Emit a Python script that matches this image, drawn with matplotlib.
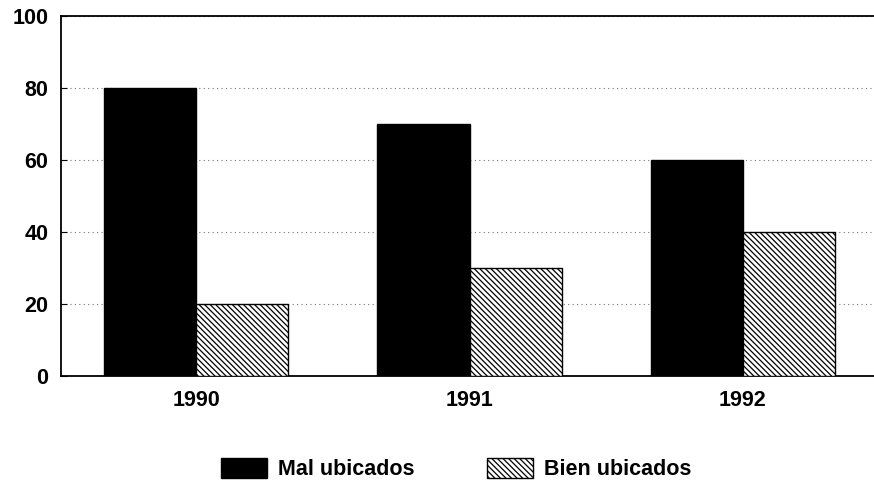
import matplotlib.pyplot as plt
import numpy as np

plt.rcParams['font.family'] = ['Liberation Sans', 'DejaVu Sans']
plt.rcParams['hatch.linewidth'] = 0.9

years = ['1990', '1991', '1992']
mal_ubicados = [80, 70, 60]
bien_ubicados = [20, 30, 40]

x = np.arange(len(years))
w = 0.337

fig = plt.figure(figsize=(8.74, 4.86), dpi=100)
ax = fig.add_axes([0.0698, 0.2263, 0.9302, 0.7407])

ax.bar(x - w / 2, mal_ubicados, w, color='black', edgecolor='black',
       label='Mal ubicados', zorder=3)
ax.bar(x + w / 2, bien_ubicados, w, color='white', edgecolor='black',
       hatch='\\\\\\\\\\\\', linewidth=1.0, label='Bien ubicados', zorder=3)

ax.set_ylim(0, 100)
ax.set_xlim(-0.495, 2.48)
ax.set_yticks([0, 20, 40, 60, 80, 100])
ax.set_xticks(x)
ax.set_xticklabels(years)
ax.tick_params(axis='y', labelsize=15.5, length=4, direction='in', pad=9)
ax.tick_params(axis='x', labelsize=15.5, length=0, pad=10)
for lab in ax.get_xticklabels() + ax.get_yticklabels():
    lab.set_fontweight('bold')

ax.yaxis.grid(True, linestyle=(0, (1, 3)), color='#777777', linewidth=0.8)
ax.set_axisbelow(True)
ax.spines['right'].set_visible(False)
for s in ['left', 'top', 'bottom']:
    ax.spines[s].set_linewidth(1.3)

leg = fig.legend(loc='center', bbox_to_anchor=(0.522, 0.035), ncol=2,
                 frameon=False, fontsize=15.5, handlelength=2.15, handleheight=1.1,
                 handletextpad=0.5, columnspacing=3.35)
for t in leg.get_texts():
    t.set_fontweight('bold')

fig.savefig('out.png', dpi=100)
